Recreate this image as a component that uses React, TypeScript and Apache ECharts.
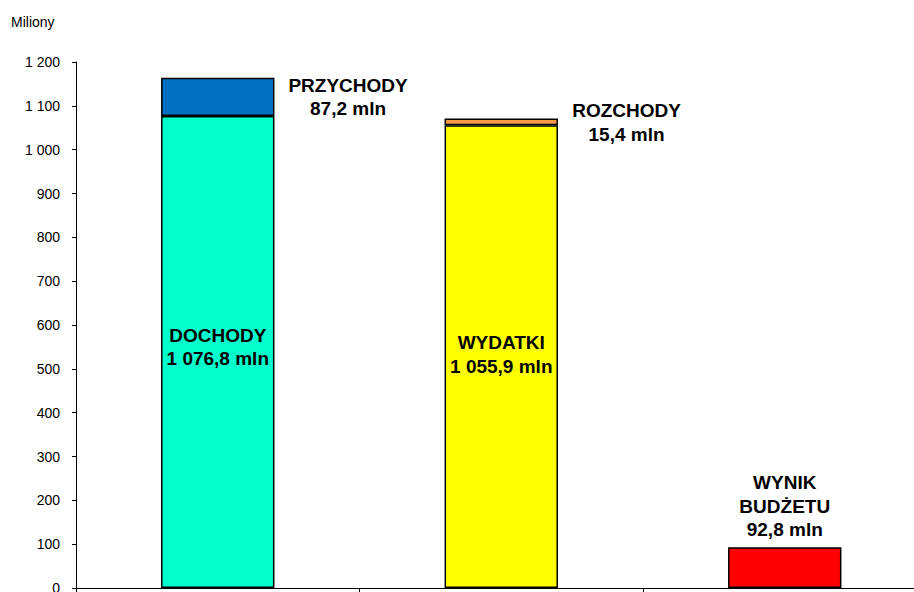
import React, { useEffect, useRef } from "react";
import * as echarts from "echarts";

const categories = ["DOCHODY / PRZYCHODY", "WYDATKI / ROZCHODY", "WYNIK BUDŻETU"];
const baseValues = [1076.8, 1055.9, 92.8];
const topValues = [87.2, 15.4, 0];
const baseNames = ["DOCHODY", "WYDATKI", "WYNIK\nBUDŻETU"];
const topNames = ["PRZYCHODY", "ROZCHODY", ""];
const baseColors = ["#00FFCC", "#FFFF00", "#FF0000"];
const topColors = ["#0070C0", "#F79646", "#FFFFFF"];
const yTicks = [0, 1200, 100];

const fmt = (v: number, dec: number) => {
  const s = v.toFixed(dec);
  const [i, d] = s.split(".");
  const ii = i.replace(/\B(?=(\d{3})+(?!\d))/g, " ");
  return d ? ii + "," + d : ii;
};

const labelFont = {
  fontFamily: "Liberation Sans, Arial, sans-serif",
  fontWeight: "bold" as const,
  fontSize: 19,
  lineHeight: 23.5,
  color: "#000",
};

export default function App() {
  const ref = useRef<HTMLDivElement>(null);
  useEffect(() => {
    if (!ref.current) return;
    const chart = echarts.init(ref.current, undefined, { renderer: "svg" });
    const topLabelPos: any[] = [[187, 19], [182, 4], [0, 0]];
    const baseOffsets: any[] = [[0, -5], [0, -2], [0, 0]];
    chart.setOption({
      animation: false,
      grid: {
        left: 76,
        right: -12.5,
        top: 62,
        bottom: 4,
        containLabel: false,
        outerBoundsMode: "none",
      },
      graphic: [
        {
          type: "text",
          left: 11,
          top: 15,
          style: {
            text: "Miliony",
            fontFamily: "Liberation Sans, Arial, sans-serif",
            fontSize: 14,
            fill: "#000",
          },
        },
      ],
      xAxis: {
        type: "category",
        data: categories,
        axisLine: { lineStyle: { color: "#000", width: 1 } },
        axisTick: { show: true, length: 5, lineStyle: { color: "#000" } },
        axisLabel: { show: false },
        splitLine: { show: false },
      },
      yAxis: {
        type: "value",
        min: yTicks[0],
        max: yTicks[1],
        interval: yTicks[2],
        axisLine: { show: true, lineStyle: { color: "#000", width: 1 } },
        axisTick: { show: true, length: 4, lineStyle: { color: "#000" } },
        axisLabel: {
          margin: 16,
          color: "#000",
          fontSize: 14,
          fontFamily: "Liberation Sans, Arial, sans-serif",
          formatter: (v: number) => fmt(v, 0),
        },
        splitLine: { show: false },
      },
      series: [
        {
          type: "bar",
          stack: "s",
          barWidth: "40%",
          data: baseValues.map((v, i) => ({
            value: v,
            itemStyle: { color: baseColors[i], borderColor: "#000", borderWidth: 1.5 },
            label: {
              show: true,
              position: i === 2 ? "top" : "inside",
              distance: 6,
              offset: baseOffsets[i],
              ...labelFont,
              formatter: () => baseNames[i] + "\n" + fmt(v, 1) + " mln",
            },
          })),
        },
        {
          type: "bar",
          stack: "s",
          barWidth: "40%",
          data: topValues.map((v, i) => ({
            value: v,
            itemStyle: {
              color: topColors[i],
              borderColor: "#000",
              borderWidth: v > 0 ? 1.5 : 0,
            },
            label: {
              show: v > 0,
              position: topLabelPos[i],
              align: "center",
              verticalAlign: "middle",
              ...labelFont,
              formatter: () => topNames[i] + "\n" + fmt(v, 1) + " mln",
            },
          })),
        },
      ],
    });
    return () => chart.dispose();
  }, []);
  return (
    <div
      ref={ref}
      style={{ position: "fixed", left: 0, top: 0, width: 914, height: 592, background: "#fff" }}
    />
  );
}
